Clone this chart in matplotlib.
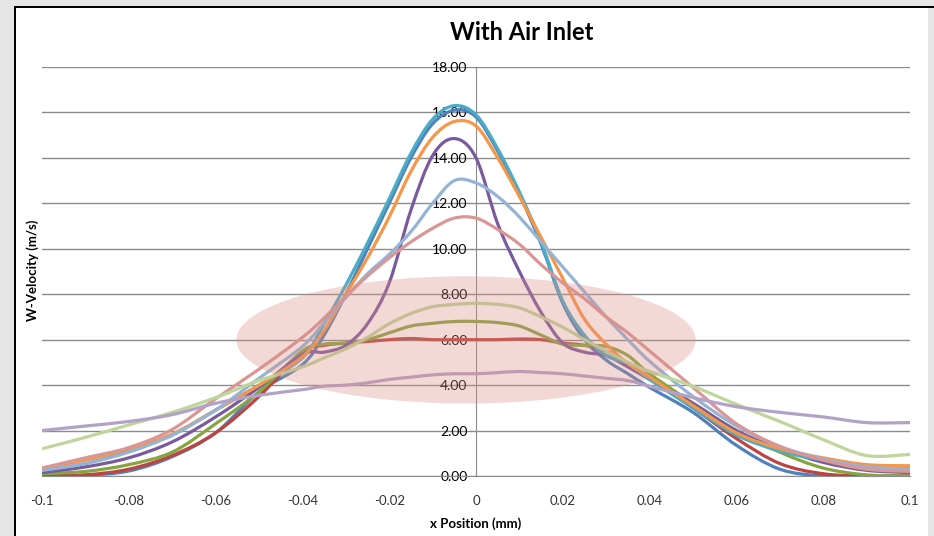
import numpy as np
import matplotlib.pyplot as plt
from matplotlib.patches import Ellipse, Rectangle, PathPatch
from matplotlib.path import Path

plt.rcParams['font.family'] = ['Lato', 'DejaVu Sans']

# shared x positions (mm)
x = [-0.1, -0.09, -0.08, -0.07, -0.06, -0.05, -0.04, -0.035, -0.03, -0.025,
     -0.02, -0.015, -0.01, -0.005, 0.0, 0.005, 0.01, 0.015, 0.02, 0.025,
     0.03, 0.035, 0.04, 0.05, 0.06, 0.07, 0.08, 0.09, 0.1]

blue = [0.0, 0.03, 0.22, 0.85, 1.9, 3.7, 4.9, 6.2, 8.0, 10.0,
        12.0, 14.0, 15.5, 16.1, 15.8, 14.3, 12.4, 10.2, 7.6, 6.0,
        5.1, 4.5, 3.9, 2.8, 1.35, 0.3, 0.0, 0.0, 0.0]
red = [0.0, 0.05, 0.3, 0.9, 1.9, 3.5, 5.45, 5.75, 5.85, 5.92,
       6.0, 6.05, 6.0, 6.0, 6.0, 6.0, 6.03, 6.0, 5.85, 5.75,
       5.5, 4.95, 4.3, 3.0, 1.65, 0.55, 0.1, 0.0, 0.0]
green = [0.1, 0.2, 0.5, 1.05, 2.3, 3.7, 5.5, 5.8, 5.85, 6.0,
         6.3, 6.6, 6.72, 6.8, 6.8, 6.75, 6.6, 6.2, 5.8, 5.75,
         5.7, 5.3, 4.5, 3.2, 2.0, 1.05, 0.35, 0.05, 0.0]
purple = [0.15, 0.4, 0.8, 1.5, 2.6, 3.9, 5.35, 5.45, 5.75, 6.7,
          8.5, 11.7, 14.1, 14.85, 14.0, 11.1, 9.0, 7.2, 5.85, 5.45,
          5.3, 4.8, 4.25, 3.2, 2.0, 1.2, 0.6, 0.25, 0.15]
aqua = [0.25, 0.55, 1.1, 1.8, 2.9, 4.0, 5.2, 6.7, 8.4, 10.25,
        12.2, 14.2, 15.7, 16.3, 15.9, 14.4, 12.5, 10.3, 7.7, 6.2,
        5.3, 4.95, 4.25, 3.0, 1.8, 1.1, 0.7, 0.45, 0.4]
orange = [0.35, 0.7, 1.2, 1.85, 2.9, 4.0, 5.25, 6.4, 8.0, 9.6,
          11.4, 13.4, 14.9, 15.6, 15.4, 14.0, 12.3, 10.5, 8.7, 6.9,
          5.8, 4.95, 4.35, 3.1, 1.9, 1.2, 0.8, 0.5, 0.45]
light_blue = [0.25, 0.55, 1.05, 1.8, 2.9, 4.3, 5.7, 6.75, 7.85, 8.9,
              9.75, 10.75, 12.0, 13.0, 12.9, 12.3, 11.4, 10.3, 9.2, 8.1,
              7.0, 6.0, 5.05, 3.5, 2.2, 1.3, 0.75, 0.4, 0.3]
light_red = [0.35, 0.8, 1.25, 2.05, 3.4, 4.7, 6.1, 6.95, 7.9, 8.8,
             9.6, 10.3, 10.9, 11.35, 11.35, 10.85, 10.2, 9.3, 8.5, 7.8,
             7.0, 6.3, 5.5, 3.9, 2.3, 1.3, 0.7, 0.3, 0.2]
light_green = [1.2, 1.7, 2.25, 2.8, 3.45, 4.2, 4.8, 5.2, 5.6, 6.1,
               6.7, 7.15, 7.45, 7.55, 7.6, 7.55, 7.4, 7.0, 6.55, 6.0,
               5.5, 5.0, 4.6, 3.95, 3.15, 2.4, 1.6, 0.9, 0.95]
lavender = [2.0, 2.2, 2.4, 2.7, 3.2, 3.55, 3.8, 3.95, 4.0, 4.1,
            4.25, 4.35, 4.45, 4.5, 4.5, 4.55, 4.6, 4.55, 4.5, 4.4,
            4.3, 4.2, 3.95, 3.45, 3.05, 2.8, 2.6, 2.35, 2.35]

series = [blue, red, green, purple, aqua, orange,
          light_blue, light_red, light_green, lavender]
colors = ['#4F81BD', '#BE4440', '#86A540', '#7A5A9E', '#4BACC6', '#F79646',
          '#95B3D7', '#D99694', '#BFD69A', '#B3A2C7']

xticks = [-0.1, -0.08, -0.06, -0.04, -0.02, 0, 0.02, 0.04, 0.06, 0.08, 0.1]
xtick_labels = ['-0.1', '-0.08', '-0.06', '-0.04', '-0.02', '0',
                '0.02', '0.04', '0.06', '0.08', '0.1']
yticks = np.arange(0, 19, 2)


def smooth_path(xs, ys):
    # bezier segments through the points, like a spreadsheet "smoothed line"
    p = np.column_stack([xs, ys])
    n = len(p)
    verts = [p[0]]
    codes = [Path.MOVETO]
    for i in range(n - 1):
        p0 = p[max(i - 1, 0)]
        p1 = p[i]
        p2 = p[i + 1]
        p3 = p[min(i + 2, n - 1)]
        c1 = p1 + (p2 - p0) / 6.0
        c2 = p2 - (p3 - p1) / 6.0
        verts += [c1, c2, p2]
        codes += [Path.CURVE4] * 3
    return Path(verts, codes)


fig = plt.figure(figsize=(9.34, 5.36), dpi=100, facecolor='#e6e6e6')
# white chart area with dark frame edges on top / left
fig.patches.append(Rectangle((16/934, 0), 912/934, 1 - 8/536,
                             transform=fig.transFigure, facecolor='white',
                             edgecolor='none', zorder=-2))
fig.patches.append(Rectangle((14/934, 0), 2/934, 1 - 6/536,
                             transform=fig.transFigure, facecolor='black',
                             edgecolor='none', zorder=-1))
fig.patches.append(Rectangle((14/934, 1 - 8/536), 920/934, 2/536,
                             transform=fig.transFigure, facecolor='black',
                             edgecolor='none', zorder=-1))

ax = fig.add_axes([42/934, 1 - 476/536, 868/934, 409/536])
ax.set_facecolor('none')

for s, c in zip(series, colors):
    ax.add_patch(PathPatch(smooth_path(x, s), facecolor='none', edgecolor=c,
                           lw=2.3, capstyle='round', joinstyle='round',
                           zorder=3))

ell = Ellipse((-0.0023, 5.99), 0.1058, 5.6, facecolor='#d98c84',
              edgecolor='none', alpha=0.33, zorder=4)
ax.add_patch(ell)

ax.set_xlim(-0.1, 0.1)
ax.set_ylim(0, 18)
ax.set_yticks(yticks)
ax.set_yticklabels(['%.2f' % v for v in yticks], fontsize=9.5, color='#333333')
ax.set_xticks(xticks)
ax.set_xticklabels(xtick_labels, fontsize=9.5, color='#333333')
ax.grid(axis='y', color='#8c8c8c', lw=1.0)
ax.set_axisbelow(True)

for side in ['top', 'right']:
    ax.spines[side].set_visible(False)
ax.spines['left'].set_position(('data', 0))
ax.spines['left'].set_color('#8c8c8c')
ax.spines['bottom'].set_color('#8c8c8c')
ax.tick_params(axis='both', length=0)
ax.tick_params(axis='y', pad=6)
ax.tick_params(axis='x', pad=14)

fig.text(522/934, 1 - 32/536, 'With Air Inlet', fontsize=17,
         fontweight='bold', ha='center', va='center')
ax.set_xlabel('x Position (mm)', fontsize=9.5, fontweight='bold', labelpad=7)
fig.text(33/934, 1 - 270/536, 'W-Velocity (m/s)', rotation=90,
         fontsize=9.5, fontweight='bold', ha='center', va='center')

fig.savefig('out.png', dpi=100, facecolor=fig.get_facecolor())
